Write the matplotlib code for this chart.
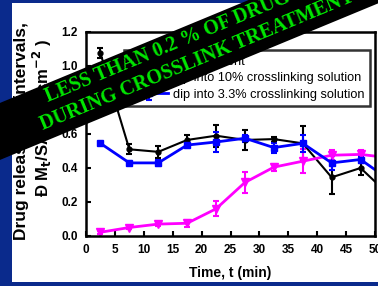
import matplotlib
matplotlib.use('Agg')
import matplotlib.pyplot as plt
from matplotlib.patches import Rectangle, Polygon

plt.rcParams['font.family'] = ['Liberation Sans', 'DejaVu Sans']

# time points (min)
t = [2.5, 7.5, 12.5, 17.5, 22.5, 27.5, 32.5, 37.5, 42.5, 47.5, 52.5]

# no treatment
none_y = [1.075, 0.51, 0.495, 0.565, 0.59, 0.565, 0.57, 0.545, 0.345, 0.40, 0.24]
none_err = [0.03, 0.03, 0.035, 0.03, 0.065, 0.06, 0.015, 0.10, 0.10, 0.04, 0.03]

# dip into 10% crosslinking solution
ten_y = [0.022, 0.05, 0.07, 0.075, 0.16, 0.315, 0.405, 0.44, 0.475, 0.48, 0.46]
ten_err = [0.01, 0.01, 0.01, 0.02, 0.045, 0.06, 0.02, 0.07, 0.03, 0.025, 0.02]

# dip into 3.3% crosslinking solution
three_y = [0.545, 0.43, 0.43, 0.535, 0.553, 0.575, 0.52, 0.545, 0.43, 0.45, 0.33]
three_err = [0.01, 0.01, 0.02, 0.015, 0.06, 0.02, 0.03, 0.05, 0.04, 0.02, 0.02]

labels = ['no treatment',
          'dip into 10% crosslinking solution',
          'dip into 3.3% crosslinking solution']

W, H = 378, 286
fig = plt.figure(figsize=(W / 100, H / 100), dpi=100)
fig.patch.set_facecolor('#0a2a8c')

# white slide panel
fig.patches.append(Rectangle((12 / W, 4 / H), 1.0, 1 - 7 / H,
                             transform=fig.transFigure, facecolor='white',
                             edgecolor='none', zorder=0))

ax = fig.add_axes([86 / W, 1 - 236 / H, 289 / W, 204 / H])
ax.set_zorder(2)
ax.set_facecolor('white')

ax.errorbar(t, none_y, yerr=none_err, color='black', lw=1.5, marker='o',
            ms=3.5, capsize=2.5, elinewidth=1.5, capthick=1.5, label=labels[0])
ax.errorbar(t, ten_y, yerr=ten_err, color='#ff00ff', lw=2, marker='v',
            ms=6, capsize=2.5, elinewidth=1.5, capthick=1.5, label=labels[1])
ax.errorbar(t, three_y, yerr=three_err, color='#0000ff', lw=2, marker='s',
            ms=5, capsize=2.5, elinewidth=1.5, capthick=1.5, label=labels[2])

ax.set_xlim(0, 50)
ax.set_ylim(0, 1.2)
ax.set_xticks(range(0, 51, 5))
ax.set_yticks([0.0, 0.2, 0.4, 0.6, 0.8, 1.0, 1.2])
ax.set_yticklabels(['0.0', '0.2', '0.4', '0.6', '0.8', '1.0', '1.2'])
ax.tick_params(direction='in', length=3.5, width=1.5, labelsize=8.5, pad=6)
for lab in ax.get_xticklabels() + ax.get_yticklabels():
    lab.set_fontweight('bold')
for s in ax.spines.values():
    s.set_linewidth(1.8)

ax.set_xlabel('Time, t (min)', fontsize=10, fontweight='bold', labelpad=7)

leg = ax.legend(loc='upper right', bbox_to_anchor=(0.983, 0.912),
                borderaxespad=0, fontsize=9.2, frameon=True, fancybox=False,
                handlelength=3.0, labelspacing=0.35, borderpad=0.45,
                handletextpad=0.4)
leg.get_frame().set_edgecolor('black')
leg.get_frame().set_linewidth(1.8)

# y label, two lines
fig.text(22 / W, 1 - 240 / H, 'Drug released in intervals,', rotation=90,
         ha='center', va='bottom', fontsize=12.5, fontweight='bold', zorder=3)
fig.text(42 / W, 1 - 197 / H, 'Ð M$_\\mathbf{t}$/SA (mg cm$^{\\mathbf{-2}}$ )',
         rotation=90, ha='center', va='bottom', fontsize=12, fontweight='bold',
         zorder=3)

# black diagonal banner
def px(x, y):
    return (x / W, 1 - y / H)

band = Polygon([px(-5, 105), px(420, 105 - 0.414 * 425),
                px(420, 162 - 0.414 * 425), px(-5, 162)],
               closed=True, transform=fig.transFigure, facecolor='black',
               edgecolor='none', zorder=10)
fig.patches.append(band)

green = '#00e600'
fig.text(*px(48, 102), 'LESS THAN 0.2 % OF DRUG RELEASED', rotation=22.5,
         rotation_mode='anchor', ha='left', va='baseline', color=green,
         fontsize=14.5, fontweight='bold', family='Liberation Serif', zorder=11)
fig.text(*px(43, 130), 'DURING CROSSLINK TREATMENT', rotation=22.5,
         rotation_mode='anchor', ha='left', va='baseline', color=green,
         fontsize=14.5, fontweight='bold', family='Liberation Serif', zorder=11)

fig.savefig('out.png', dpi=100, facecolor=fig.get_facecolor())
